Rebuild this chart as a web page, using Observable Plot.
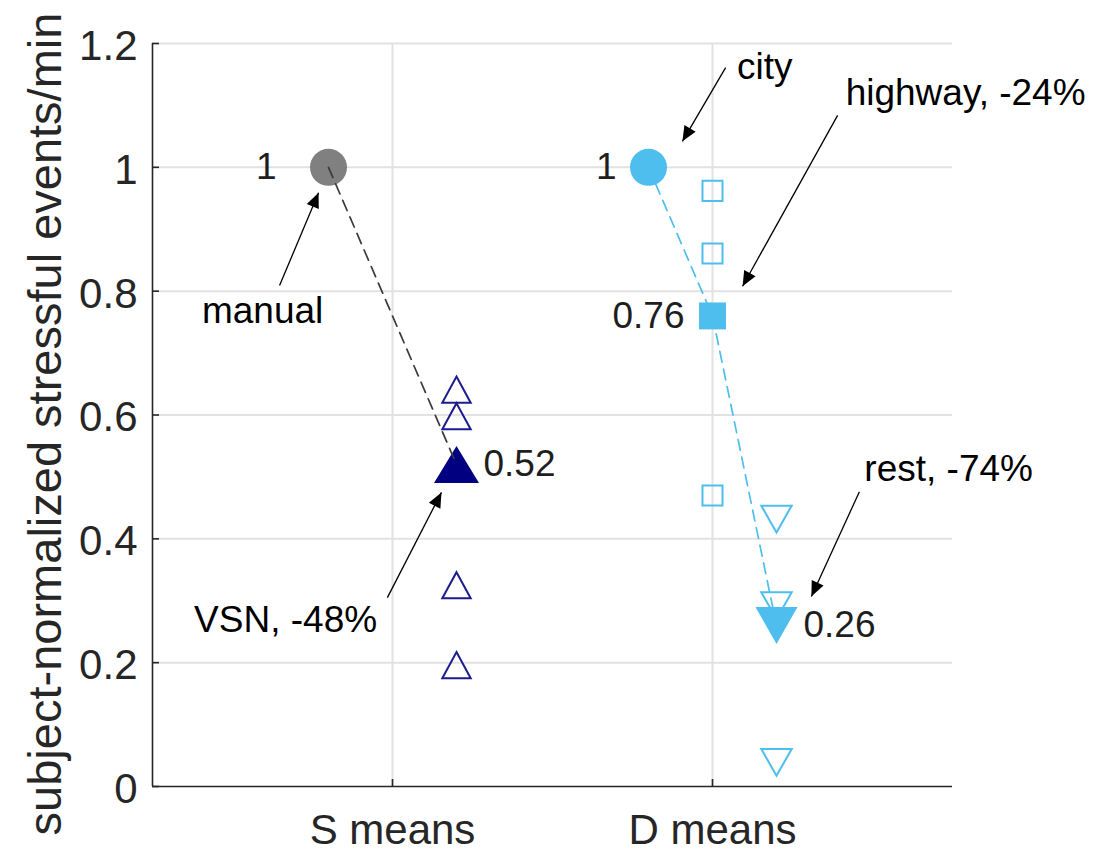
<!DOCTYPE html>
<html>
<head>
<meta charset="utf-8">
<script src="https://cdn.jsdelivr.net/npm/d3@7"></script>
<script src="https://cdn.jsdelivr.net/npm/@observablehq/plot@0.6"></script>
<style>
  html, body { margin: 0; padding: 0; background: #fff; }
</style>
</head>
<body>
<div id="chart"></div>
<script>
// Group tick positions and names on the x axis
const groupPos = [1, 2];
const groupNames = ["S means", "D means"];

// Condition means (normalized to the reference condition of each group)
const conditions = ["manual", "VSN", "city", "highway", "rest"];
const conditionX = [0.8, 1.2, 1.8, 2.0, 2.2];
const conditionMean = [1, 0.52, 1, 0.76, 0.26];

// Per-subject normalized values
const vsnSubjects = [0.641, 0.598, 0.325, 0.196];
const highwaySubjects = [0.962, 0.861, 0.470];
const restSubjects = [0.432, 0.292, 0.039];

const yTicks = [0, 0.2, 0.4, 0.6, 0.8, 1, 1.2];

// Callout annotations: text anchor, arrow tail and arrow tip (data units)
const calloutLabels = ["manual", "VSN, -48%", "city", "highway, -24%", "rest, -74%"];
const calloutText = [[0.594, 0.749], [0.666, 0.249], [2.163, 1.143], [2.791, 1.100], [2.738, 0.493]];
const calloutTail = [[0.647, 0.809], [0.984, 0.305], [2.041, 1.161], [2.391, 1.084], [2.459, 0.476]];
const calloutTip = [[0.769, 0.959], [1.153, 0.475], [1.906, 1.042], [2.094, 0.808], [2.309, 0.307]];

// Placement of the value labels next to the mean markers
const meanLabelDx = [-52, 27, -32, -28, 27];
const meanLabelAnchor = ["end", "start", "end", "end", "start"];

const W = 1113, H = 852;
const M = {top: 43, right: 161, bottom: 66, left: 152};
const xDomain = [0.25, 2.75], yDomain = [0, 1.2];

const NAVY = "#000080", SKY = "#4DBEEE", GREY = "#808080", AXIS = "#262626", GRID = "#e2e2e2";
const FONT = "'Liberation Sans', Arial, Helvetica, sans-serif";

// Triangle symbol centered on its bounding box; dir 1 points up, -1 points down
function triangle(dir, aspect) {
  return {
    draw(ctx, size) {
      const w = Math.sqrt(size / Math.PI), h = w * aspect;
      ctx.moveTo(0, -dir * h);
      ctx.lineTo(w, dir * h);
      ctx.lineTo(-w, dir * h);
      ctx.closePath();
    }
  };
}
// Filled arrow head with its tip at the origin, pointing up
const arrowHead = {
  draw(ctx) {
    ctx.moveTo(0, 0);
    ctx.lineTo(6.5, 15);
    ctx.lineTo(-6.5, 15);
    ctx.closePath();
  }
};

// Pixel-space direction of each callout arrow, for rotating the heads
const px = d3.scaleLinear(xDomain, [M.left, W - M.right]);
const py = d3.scaleLinear(yDomain, [H - M.bottom, M.top]);
const headAngle = calloutTip.map((t, i) => {
  const s = calloutTail[i];
  const dx = px(t[0]) - px(s[0]), dy = py(t[1]) - py(s[1]);
  return Math.atan2(dx, -dy) * 180 / Math.PI;
});

const means = conditions.map((c, i) => ({condition: c, x: conditionX[i], y: conditionMean[i]}));
const byName = Object.fromEntries(means.map(d => [d.condition, d]));
const sPath = [byName.manual, byName.VSN];
const dPath = [byName.city, byName.highway, byName.rest];

const subjects = (vals, name) => vals.map(v => ({x: byName[name].x, y: v}));

const chart = Plot.plot({
  width: W,
  height: H,
  marginTop: M.top,
  marginRight: M.right,
  marginBottom: M.bottom,
  marginLeft: M.left,
  x: {domain: xDomain},
  y: {domain: yDomain},
  style: {fontFamily: FONT, fontSize: "37px", background: "#fff", overflow: "visible"},
  marks: [
    // grid
    Plot.ruleY(yTicks.slice(1), {stroke: GRID, strokeWidth: 2}),
    Plot.ruleX(groupPos, {stroke: GRID, strokeWidth: 2}),
    // axes
    Plot.ruleX([xDomain[0]], {stroke: AXIS, strokeWidth: 1.6}),
    Plot.ruleY([0], {stroke: AXIS, strokeWidth: 1.6}),
    Plot.tickY(yTicks, {stroke: AXIS, strokeWidth: 1.6, insetRight: W - M.left - M.right - 7}),
    Plot.tickX(groupPos, {stroke: AXIS, strokeWidth: 1.6, insetTop: H - M.top - M.bottom - 7}),
    Plot.axisY({ticks: yTicks, tickFormat: d3.format("~g"), tickSize: 0, tickPadding: 15,
      fontSize: 42, color: AXIS, label: null, dy: 3}),
    Plot.axisX({ticks: groupPos, tickFormat: d => groupNames[groupPos.indexOf(d)], tickSize: 0,
      tickPadding: 28, fontSize: 42, color: AXIS, label: null}),
    Plot.text(["subject-normalized stressful events/min"], {
      frameAnchor: "left", rotate: -90, textAnchor: "middle", lineAnchor: "bottom", dx: -92, dy: 9,
      fontSize: 47, fill: AXIS
    }),
    // individual subjects
    Plot.dot(subjects(vsnSubjects, "VSN"), {x: "x", y: "y", r: 14.2, symbol: triangle(1, 0.92),
      fill: "none", stroke: "#1c1c8e", strokeWidth: 2}),
    Plot.dot(subjects(highwaySubjects, "highway"), {x: "x", y: "y", r: 11.3, symbol: "square",
      fill: "none", stroke: SKY, strokeWidth: 2}),
    Plot.dot(subjects(restSubjects, "rest"), {x: "x", y: "y", r: 15.2, symbol: triangle(-1, 0.88),
      fill: "none", stroke: SKY, strokeWidth: 2}),
    // condition means
    Plot.dot([byName.manual], {x: "x", y: "y", r: 18.5, fill: GREY}),
    Plot.dot([byName.city], {x: "x", y: "y", r: 18.5, fill: SKY}),
    Plot.dot([byName.VSN], {x: "x", y: "y", r: 22.5, symbol: triangle(1, 0.82), fill: NAVY}),
    Plot.dot([byName.highway], {x: "x", y: "y", r: 15.2, symbol: "square", fill: SKY}),
    Plot.dot([byName.rest], {x: "x", y: "y", r: 21, symbol: triangle(-1, 0.88), fill: SKY}),
    // mean-to-mean connections
    Plot.line(sPath, {x: "x", y: "y", stroke: "#3a3a3a", strokeWidth: 1.7, strokeDasharray: "11,7"}),
    Plot.line(dPath, {x: "x", y: "y", stroke: SKY, strokeWidth: 1.7, strokeDasharray: "11,7"}),
    // value labels, one per mean marker
    ...means.map((d, i) => Plot.text([d], {x: "x", y: "y", text: dd => String(dd.y),
      dx: meanLabelDx[i], textAnchor: meanLabelAnchor[i], fontSize: 37, fill: "#1e1e1e"})),
    // callouts
    Plot.link(calloutTail.map((s, i) => ({s, t: calloutTip[i]})), {
      x1: d => d.s[0], y1: d => d.s[1], x2: d => d.t[0], y2: d => d.t[1],
      stroke: "#000", strokeWidth: 1.3
    }),
    Plot.dot(calloutTip.map((t, i) => ({x: t[0], y: t[1], a: headAngle[i]})), {
      x: "x", y: "y", symbol: arrowHead, fill: "#000", stroke: "none", rotate: "a"
    }),
    Plot.text(calloutLabels.map((l, i) => ({l, x: calloutText[i][0], y: calloutText[i][1]})), {
      x: "x", y: "y", text: "l", textAnchor: "middle", lineAnchor: "bottom", fontSize: 37, fill: "#000"
    })
  ]
});

document.getElementById("chart").appendChild(chart);
</script>
</body>
</html>
